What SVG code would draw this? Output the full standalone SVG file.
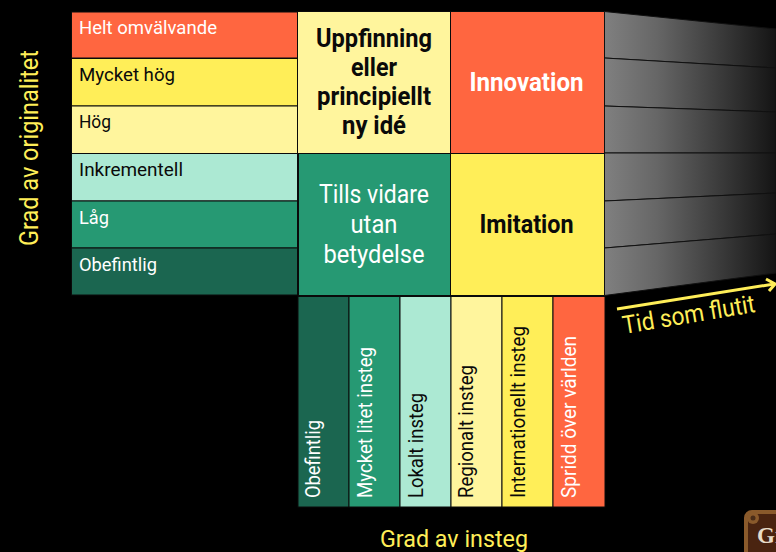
<svg xmlns="http://www.w3.org/2000/svg" width="776" height="552" viewBox="0 0 776 552">
<style>
text{font-family:"Roboto","Liberation Sans",sans-serif}
.c{stroke:#0a0a0a;stroke-width:1}
.r{fill:#ff6640}.y{fill:#ffee58}.p{fill:#fff59d}.m{fill:#ace9d3}.g{fill:#269973}.d{fill:#1b6650}
.l{font-size:19px}.w{fill:#fff}.k{fill:#0a0a0a}
.big{font-size:25px;text-anchor:middle}.b{font-weight:700}
.ax{fill:#ffee58;font-size:25px}
.v{font-size:20px}
.t{fill:url(#fade);stroke:#111;stroke-width:1}
</style>
<defs>
<linearGradient id="fade" gradientUnits="userSpaceOnUse" x1="604" y1="0" x2="776" y2="0"><stop offset="0" stop-color="#808080"/><stop offset=".31" stop-color="#666"/><stop offset="1" stop-color="#141414"/></linearGradient>
</defs>
<rect width="776" height="552" fill="#000"/>
<g id="row-helt"><rect class="c r" x="71.500" y="12" width="226" height="46"/><text class="l w" x="79" y="34" textLength="138" lengthAdjust="spacingAndGlyphs">Helt omvälvande</text></g>
<g id="row-mycket"><rect class="c y" x="71.500" y="58.500" width="226" height="47.500"/><text class="l k" x="79" y="81" textLength="96" lengthAdjust="spacingAndGlyphs">Mycket hög</text></g>
<g id="row-hog"><rect class="c p" x="71.500" y="106" width="226" height="47.500"/><text class="l k" x="79" y="128" textLength="32" lengthAdjust="spacingAndGlyphs">Hög</text></g>
<g id="row-inkr"><rect class="c m" x="71.500" y="153.500" width="226" height="47.500"/><text class="l k" x="79" y="176" textLength="104" lengthAdjust="spacingAndGlyphs">Inkrementell</text></g>
<g id="row-lag"><rect class="c g" x="71.500" y="201" width="226" height="47"/><text class="l w" x="79" y="224" textLength="30" lengthAdjust="spacingAndGlyphs">Låg</text></g>
<g id="row-obef"><rect class="c d" x="71.500" y="248" width="226" height="47"/><text class="l w" x="79" y="271" textLength="78" lengthAdjust="spacingAndGlyphs">Obefintlig</text></g>

<g id="cell-uppfinning"><rect class="c p" x="297.500" y="11.500" width="153" height="142"/>
<text class="big b k" x="374" y="47" textLength="116" lengthAdjust="spacingAndGlyphs">Uppfinning</text>
<text class="big b k" x="374" y="76" textLength="46" lengthAdjust="spacingAndGlyphs">eller</text>
<text class="big b k" x="374" y="105" textLength="114" lengthAdjust="spacingAndGlyphs">principiellt</text>
<text class="big b k" x="374" y="134" textLength="64" lengthAdjust="spacingAndGlyphs">ny idé</text></g>
<g id="cell-innovation"><rect class="c r" x="450.500" y="11.500" width="154" height="142"/><text class="big b w" x="526.500" y="91" textLength="114" lengthAdjust="spacingAndGlyphs">Innovation</text></g>
<g id="cell-tills"><rect class="c g" x="298.500" y="153.500" width="152" height="142"/>
<text class="big w" x="374" y="203" textLength="110" lengthAdjust="spacingAndGlyphs">Tills vidare</text>
<text class="big w" x="374" y="233" textLength="47" lengthAdjust="spacingAndGlyphs">utan</text>
<text class="big w" x="374" y="263" textLength="101" lengthAdjust="spacingAndGlyphs">betydelse</text></g>
<g id="cell-imitation"><rect class="c y" x="450.500" y="153.500" width="154" height="142"/><text class="big b k" x="526.500" y="233" textLength="94" lengthAdjust="spacingAndGlyphs">Imitation</text></g>

<g id="fade-bands">
<polygon class="t" points="604.500,11.500 776,29 776,68 604.500,58"/>
<polygon class="t" points="604.500,58 776,68 776,112 604.500,106"/>
<polygon class="t" points="604.500,106 776,112 776,153 604.500,153"/>
<polygon class="t" points="604.500,153 776,153 776,193 604.500,201"/>
<polygon class="t" points="604.500,201 776,193 776,234 604.500,248"/>
<polygon class="t" points="604.500,248 776,234 776,273 604.500,295.500"/>
</g>

<g id="col-1"><rect class="c d" x="298" y="296.500" width="51" height="210.500"/><text class="v w" transform="translate(320,498) rotate(-90)" textLength="78" lengthAdjust="spacingAndGlyphs">Obefintlig</text></g>
<g id="col-2"><rect class="c g" x="349" y="296.500" width="51" height="210.500"/><text class="v w" transform="translate(372,498) rotate(-90)" textLength="151" lengthAdjust="spacingAndGlyphs">Mycket litet insteg</text></g>
<g id="col-3"><rect class="c m" x="400" y="296.500" width="51" height="210.500"/><text class="v k" transform="translate(423,498) rotate(-90)" textLength="105" lengthAdjust="spacingAndGlyphs">Lokalt insteg</text></g>
<g id="col-4"><rect class="c p" x="451" y="296.500" width="51" height="210.500"/><text class="v k" transform="translate(473,498) rotate(-90)" textLength="133" lengthAdjust="spacingAndGlyphs">Regionalt insteg</text></g>
<g id="col-5"><rect class="c y" x="502" y="296.500" width="51" height="210.500"/><text class="v k" transform="translate(525,498) rotate(-90)" textLength="172" lengthAdjust="spacingAndGlyphs">Internationellt insteg</text></g>
<g id="col-6"><rect class="c r" x="553" y="296.500" width="52" height="210.500"/><text class="v w" transform="translate(576,498) rotate(-90)" textLength="162" lengthAdjust="spacingAndGlyphs">Spridd över världen</text></g>

<g id="axis-y"><text class="ax" transform="translate(38,246) rotate(-90)" textLength="196" lengthAdjust="spacingAndGlyphs">Grad av originalitet</text></g>
<g id="axis-x"><text class="ax" x="380" y="546.500" textLength="148" lengthAdjust="spacingAndGlyphs" style="font-size:24.500px">Grad av insteg</text></g>
<g id="connectors"><path d="M617 309L774 284M766 279L775 284L769 291" fill="none" stroke="#ffee58" stroke-width="3"/></g>
<g id="axis-time"><text class="ax" transform="translate(624,334) rotate(-9.500)" textLength="134" lengthAdjust="spacingAndGlyphs">Tid som flutit</text></g>

<g id="badge"><rect x="746" y="512" width="50" height="50" rx="6" fill="#4a2410" stroke="#8a5a2b" stroke-width="4"/><circle cx="753" cy="518" r="6" fill="#8a5a2b"/><circle cx="753" cy="518" r="2.500" fill="#4a2d18"/><text x="757" y="543" font-size="23" font-weight="700" fill="#e8dcc8" style="font-family:'Liberation Serif',serif">Gr</text></g>
</svg>
